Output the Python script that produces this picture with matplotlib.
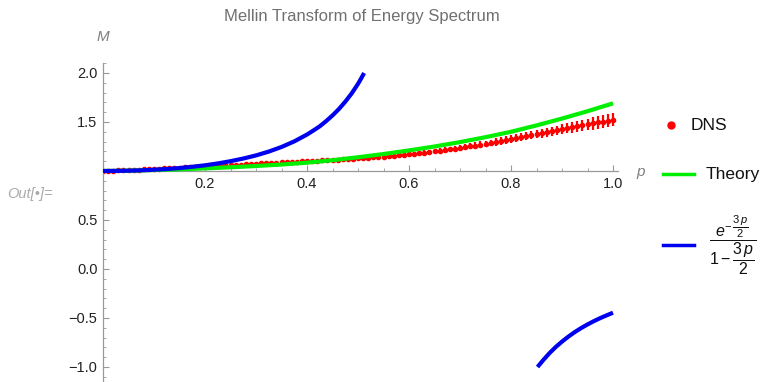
import numpy as np
import matplotlib.pyplot as plt
from matplotlib.ticker import MultipleLocator, FuncFormatter

plt.rcParams['font.family'] = ['Liberation Sans', 'DejaVu Sans']
plt.rcParams['mathtext.fontset'] = 'custom'
plt.rcParams['mathtext.rm'] = 'Liberation Sans'
plt.rcParams['mathtext.it'] = 'Liberation Sans:italic'

# DNS data, p = 0.00 ... 1.00 in steps of 0.01
dns_p = np.round(np.arange(0, 101) * 0.01, 2)
dns_m = [
    1.000, 1.002, 1.004, 1.006, 1.008, 1.010, 1.012, 1.014, 1.016, 1.018,
    1.020, 1.023, 1.026, 1.029, 1.031, 1.034, 1.037, 1.040, 1.042, 1.045,
    1.048, 1.051, 1.053, 1.056, 1.058, 1.061, 1.064, 1.066, 1.069, 1.071,
    1.074, 1.077, 1.079, 1.082, 1.084, 1.087, 1.090, 1.092, 1.095, 1.097,
    1.100, 1.103, 1.105, 1.108, 1.111, 1.114, 1.116, 1.119, 1.122, 1.125,
    1.128, 1.131, 1.135, 1.139, 1.143, 1.147, 1.151, 1.156, 1.160, 1.165,
    1.170, 1.175, 1.181, 1.187, 1.193, 1.199, 1.206, 1.213, 1.220, 1.227,
    1.235, 1.243, 1.251, 1.259, 1.268, 1.277, 1.286, 1.296, 1.306, 1.316,
    1.327, 1.337, 1.346, 1.356, 1.366, 1.376, 1.386, 1.396, 1.406, 1.415,
    1.425, 1.435, 1.445, 1.455, 1.465, 1.475, 1.485, 1.495, 1.505, 1.515,
    1.525]
dns_err = [
    0.000, 0.001, 0.001, 0.001, 0.002, 0.002, 0.002, 0.002, 0.003, 0.003,
    0.003, 0.003, 0.004, 0.004, 0.004, 0.004, 0.005, 0.005, 0.005, 0.005,
    0.006, 0.006, 0.006, 0.006, 0.007, 0.007, 0.007, 0.007, 0.008, 0.008,
    0.008, 0.009, 0.009, 0.009, 0.010, 0.010, 0.010, 0.011, 0.011, 0.011,
    0.012, 0.012, 0.013, 0.013, 0.013, 0.014, 0.014, 0.015, 0.015, 0.016,
    0.016, 0.017, 0.017, 0.018, 0.018, 0.019, 0.019, 0.020, 0.021, 0.021,
    0.022, 0.023, 0.023, 0.024, 0.025, 0.025, 0.026, 0.027, 0.028, 0.028,
    0.029, 0.030, 0.031, 0.032, 0.033, 0.034, 0.035, 0.036, 0.037, 0.038,
    0.039, 0.040, 0.041, 0.042, 0.043, 0.044, 0.046, 0.047, 0.048, 0.049,
    0.051, 0.052, 0.054, 0.056, 0.058, 0.060, 0.062, 0.064, 0.066, 0.068,
    0.070]

# Theory curve
theory_p = [0.0, 0.05, 0.1, 0.15, 0.2, 0.25, 0.3, 0.35, 0.4, 0.45, 0.5,
            0.55, 0.6, 0.65, 0.7, 0.75, 0.8, 0.85, 0.9, 0.95, 1.0]
theory_m = [1.000, 1.003, 1.010, 1.017, 1.027, 1.038, 1.051, 1.066, 1.085, 1.110, 1.140,
            1.173, 1.210, 1.250, 1.295, 1.345, 1.400, 1.465, 1.535, 1.610, 1.690]

# approximation curve, two branches
approx1_p = [0.0, 0.025, 0.05, 0.075, 0.1, 0.125, 0.15, 0.175, 0.2, 0.225, 0.25,
             0.275, 0.3, 0.325, 0.35, 0.375, 0.4, 0.4125, 0.425, 0.4375, 0.45,
             0.4625, 0.475, 0.4875, 0.5, 0.50625, 0.512]
approx1_m = [1.000, 1.001, 1.003, 1.007, 1.013, 1.020, 1.030, 1.043, 1.058, 1.077, 1.100,
             1.127, 1.159, 1.198, 1.245, 1.302, 1.372, 1.413, 1.456, 1.509, 1.567,
             1.632, 1.707, 1.791, 1.889, 1.945, 2.000]
approx2_p = [0.852, 0.8625, 0.875, 0.8875, 0.9, 0.9125, 0.925, 0.9375, 0.95,
             0.9625, 0.975, 0.9875, 1.0]
approx2_m = [-1.000, -0.934, -0.861, -0.797, -0.741, -0.690, -0.644, -0.603, -0.566,
             -0.532, -0.501, -0.473, -0.446]

W, H = 772, 382
fig = plt.figure(figsize=(W / 100, H / 100), dpi=100)
ax = fig.add_axes([103 / W, 1 / H, 515 / W, 318 / H])

ax.errorbar(dns_p, dns_m, yerr=dns_err, fmt='o', color='red', ms=3,
            elinewidth=1.6, capsize=0, zorder=2)
ax.plot(theory_p, theory_m, color='#00ee00', lw=3, zorder=3, solid_capstyle='butt')
ax.plot(approx1_p, approx1_m, color='#0000f0', lw=3, zorder=4, solid_capstyle='butt',
        solid_joinstyle='round')
ax.plot(approx2_p, approx2_m, color='#0000f0', lw=3, zorder=4, solid_capstyle='butt',
        solid_joinstyle='round')

ax.set_xlim(0, 1.0098)
ax.set_ylim(-1.143, 2.102)

for s in ['top', 'right']:
    ax.spines[s].set_visible(False)
ax.spines['left'].set_position(('data', 0))
ax.spines['bottom'].set_position(('data', 1))
for s in ['left', 'bottom']:
    ax.spines[s].set_color('#999999')
    ax.spines[s].set_linewidth(0.9)

ax.xaxis.set_major_locator(MultipleLocator(0.2))
ax.xaxis.set_minor_locator(MultipleLocator(0.05))
ax.yaxis.set_major_locator(MultipleLocator(0.5))
ax.yaxis.set_minor_locator(MultipleLocator(0.1))
ax.xaxis.set_major_formatter(FuncFormatter(lambda v, pos: '' if abs(v) < 1e-9 else '%.1f' % v))
ax.yaxis.set_major_formatter(FuncFormatter(
    lambda v, pos: '' if abs(v - 1) < 1e-9 else ('%.1f' % v).replace('-', '\u2212')))
ax.tick_params(which='both', direction='in', colors='#999999', labelcolor='#222222',
               labelsize=10.5)
ax.tick_params(which='major', length=4, width=0.8, pad=4)
ax.tick_params(which='minor', length=2, width=0.6)

fig.text(362 / W, 1 - 17 / H, 'Mellin Transform of Energy Spectrum', ha='center', va='center',
         color='#707070', fontsize=12)
fig.text(103 / W, 1 - 37 / H, 'M', ha='center', va='center', style='italic',
         color='#808080', fontsize=11)
fig.text(641 / W, 1 - 172 / H, 'p', ha='center', va='center', style='italic',
         color='#808080', fontsize=11)
fig.text(7 / W, 1 - 194 / H, 'Out[\u2022]=', ha='left', va='center', style='italic',
         color='#aaaaaa', fontsize=10.5)

# legend, drawn by hand on an overlay in pixel units
lax = fig.add_axes([0, 0, 1, 1])
lax.set_xlim(0, W)
lax.set_ylim(H, 0)
lax.axis('off')
lax.plot([671], [125], 'o', color='red', ms=5)
lax.text(691, 125, 'DNS', va='center', ha='left', fontsize=12.5, color='#111111')
lax.plot([663, 694], [174, 174], color='#00ee00', lw=2.5)
lax.text(706, 174, 'Theory', va='center', ha='left', fontsize=12.5, color='#111111')
lax.plot([663, 694], [245, 245], color='#0000f0', lw=2.5)
lax.text(709, 245, r'$\dfrac{e^{-\,\dfrac{3\,p}{2}}}{1-\dfrac{3\,p}{2}}$', va='center', ha='left',
         fontsize=11.5, color='#111111')

fig.savefig('out.png', dpi=100)
